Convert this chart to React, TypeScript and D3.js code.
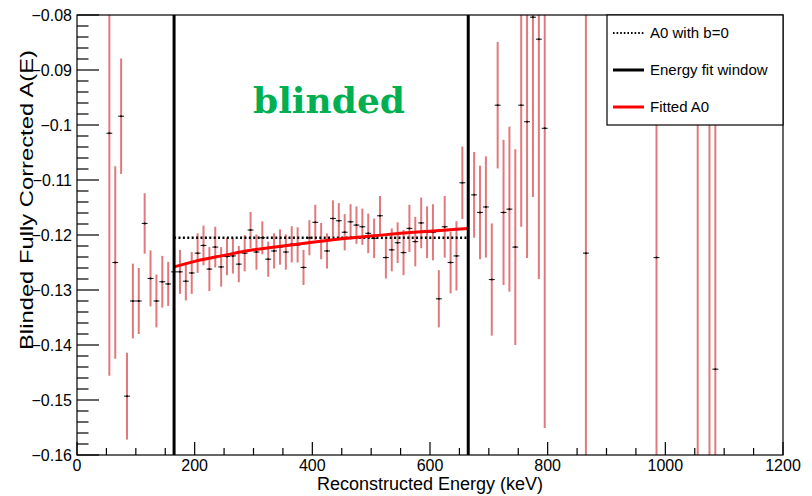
import React from 'react';
import * as d3 from 'd3';

// bin centres (keV) and blinded asymmetry with its statistical error
const binE = [
  55, 65, 75, 85, 95, 105, 115, 125, 135, 145, 155, 165, 175, 185, 195, 205, 215, 225, 235, 245,
  255, 265, 275, 285, 295, 305, 315, 325, 335, 345, 355, 365, 375, 385, 395, 405, 415, 425, 435, 445,
  455, 465, 475, 485, 495, 505, 515, 525, 535, 545, 555, 565, 575, 585, 595, 605, 615, 625, 635, 645,
  655, 675, 685, 695, 705, 715, 725, 735, 745, 755, 765, 775, 785, 795, 865, 985, 1055, 1075, 1085,
];
const asym = [
  -0.1015, -0.125, -0.0984, -0.1493, -0.132, -0.132, -0.1179, -0.1279, -0.132, -0.1285,
  -0.1289, -0.1267, -0.1267, -0.1284, -0.1269, -0.1233, -0.1219, -0.1262, -0.1222, -0.1258,
  -0.1239, -0.1238, -0.1253, -0.1233, -0.1191, -0.1231, -0.1205, -0.1244, -0.1229, -0.1222,
  -0.1231, -0.1217, -0.1218, -0.1259, -0.1205, -0.1177, -0.1211, -0.1229, -0.117, -0.1174,
  -0.1195, -0.1176, -0.1182, -0.1185, -0.1197, -0.1206, -0.1165, -0.1241, -0.1227, -0.1214,
  -0.1232, -0.1188, -0.1212, -0.1178, -0.1195, -0.1195, -0.1316, -0.1185, -0.125, -0.1238,
  -0.1105, -0.1127, -0.1159, -0.1149, -0.1281, -0.0964, -0.1159, -0.1153, -0.1222, -0.0964,
  -0.0994, -0.0804, -0.0844, -0.1006, -0.1233, -0.1241, -0.09, -0.095, -0.1444,
];
const asymErr = [
  0.0441, 0.0175, 0.0105, 0.0079, 0.0068, 0.006, 0.0055, 0.0051, 0.0048, 0.0047,
  0.004, 0.004, 0.004, 0.0035, 0.0038, 0.0036, 0.0036, 0.004, 0.0037, 0.0036,
  0.0034, 0.0032, 0.0033, 0.0033, 0.0033, 0.0032, 0.003, 0.0032, 0.0032, 0.0032,
  0.0032, 0.0033, 0.0032, 0.0032, 0.0032, 0.0032, 0.0033, 0.0032, 0.0033, 0.0032,
  0.0033, 0.0032, 0.0034, 0.0033, 0.0036, 0.0036, 0.0036, 0.0038, 0.0039, 0.0037,
  0.0041, 0.0043, 0.0045, 0.0046, 0.0047, 0.0051, 0.0052, 0.0056, 0.0056, 0.0063,
  0.0066, 0.0078, 0.0085, 0.0092, 0.0102, 0.0115, 0.0132, 0.015, 0.0178, 0.0221,
  0.0248, 0.0327, 0.0436, 0.0545, 0.08, 0.08, 0.1, 0.1, 0.1,
];

// fitted A0 curve
const fitE = [165, 200, 250, 300, 350, 400, 450, 500, 550, 600, 665];
const fitA = [-0.1258, -0.1248, -0.1237, -0.1227, -0.122, -0.1213, -0.1207, -0.1202, -0.1197, -0.1193, -0.1188];

const fitWindow = [165, 665];
const a0NoB = -0.1205;

const xTicks = [0, 200, 400, 600, 800, 1000, 1200];
const yTicks = [-0.08, -0.09, -0.1, -0.11, -0.12, -0.13, -0.14, -0.15, -0.16];
const yTickLabels = ['\u22120.08', '\u22120.09', '\u22120.1', '\u22120.11', '\u22120.12', '\u22120.13', '\u22120.14', '\u22120.15', '\u22120.16'];

const legendItems = ['A0 with b=0', 'Energy fit window', 'Fitted A0'];

const W = 812;
const H = 496;
const margin = { top: 15, right: 29, bottom: 41, left: 77 };
const font = '"Liberation Sans", Arial, sans-serif';

export default function App() {
  const x = d3.scaleLinear().domain([0, 1200]).range([margin.left, W - margin.right]);
  const y = d3.scaleLinear().domain([-0.16, -0.08]).range([H - margin.bottom, margin.top]);
  const [x0, x1] = x.range();
  const [yb, yt] = y.range();

  const minorX = d3.range(0, 1201, 50);
  const minorY = d3.range(0, 41).map((i) => -0.16 + i * 0.002);

  const fitLine = d3
    .line<number>()
    .x((d) => x(d))
    .y((_, i) => y(fitA[i]))
    .curve(d3.curveMonotoneX)(fitE);

  const legX = 607;
  const legY = yt;
  const legW = x1 - legX;
  const legH = 110;

  return (
    <svg width={W} height={H} style={{ position: 'absolute', left: 0, top: 0, background: '#fff' }}>
      <defs>
        <clipPath id="frame">
          <rect x={x0} y={yt} width={x1 - x0} height={yb - yt} />
        </clipPath>
      </defs>
      <rect width={W} height={H} fill="#fff" />

      <g clipPath="url(#frame)">
        {/* error bars */}
        {binE.map((e, i) => (
          <line
            key={'e' + i}
            x1={x(e)}
            x2={x(e)}
            y1={y(asym[i] + asymErr[i])}
            y2={y(asym[i] - asymErr[i])}
            stroke="#de6a6e"
            strokeOpacity={0.9}
            strokeWidth={2}
          />
        ))}
        {/* markers */}
        {binE.map((e, i) => (
          <g key={'m' + i}>
            <line x1={x(e - 5)} x2={x(e + 5)} y1={y(asym[i])} y2={y(asym[i])} stroke="#222" strokeWidth={1.1} />
            <circle cx={x(e)} cy={y(asym[i])} r={1} fill="#000" />
          </g>
        ))}
        {/* A0 with b=0 */}
        <line
          x1={x(fitWindow[0])}
          x2={x(fitWindow[1])}
          y1={y(a0NoB)}
          y2={y(a0NoB)}
          stroke="#000"
          strokeWidth={2.5}
          strokeDasharray="2 2.4"
        />
        {/* fitted A0 */}
        <path d={fitLine ?? ''} fill="none" stroke="#ff0000" strokeWidth={3} />
        {/* fit window */}
        {fitWindow.map((e) => (
          <line key={'w' + e} x1={x(e)} x2={x(e)} y1={yt} y2={yb} stroke="#000" strokeWidth={3} />
        ))}
      </g>

      {/* frame */}
      <rect x={x0} y={yt} width={x1 - x0} height={yb - yt} fill="none" stroke="#000" strokeWidth={1.2} />

      {/* x axis ticks */}
      {minorX.map((v) => {
        const major = v % 200 === 0;
        return (
          <line key={'xt' + v} x1={x(v)} x2={x(v)} y1={yb} y2={yb - (major ? 13 : 7)} stroke="#000" strokeWidth={1.2} />
        );
      })}
      {xTicks.map((v) => (
        <text key={'xl' + v} x={x(v)} y={yb + 16} textAnchor="middle" fontFamily={font} fontSize={16} fill="#000">
          {v}
        </text>
      ))}

      {/* y axis ticks */}
      {minorY.map((v, i) => {
        const major = i % 5 === 0;
        return (
          <line key={'yt' + i} x1={x0} x2={x0 + (major ? 22 : 11.5)} y1={y(v)} y2={y(v)} stroke="#000" strokeWidth={1.2} />
        );
      })}
      {yTicks.map((v, i) => (
        <text
          key={'yl' + i}
          x={x0 - 5}
          y={y(v)}
          dy="0.36em"
          textAnchor="end"
          fontFamily={font}
          fontSize={16}
          fill="#000"
        >
          {yTickLabels[i]}
        </text>
      ))}

      {/* axis titles */}
      <text x={(x0 + x1) / 2} y={490} textAnchor="middle" fontFamily={font} fontSize={18} fill="#000">
        Reconstructed Energy (keV)
      </text>
      <text
        transform="translate(33, 200) rotate(-90)"
        textAnchor="middle"
        fontFamily={font}
        fontSize={18}
        textLength={300}
        lengthAdjust="spacingAndGlyphs"
        fill="#000"
      >
        Blinded Fully Corrected A(E)
      </text>

      {/* legend */}
      <rect x={legX} y={legY} width={legW} height={legH} fill="#fff" stroke="#000" strokeWidth={1.2} />
      {legendItems.map((label, i) => {
        const cy = legY + 18 + i * 37;
        return (
          <g key={label}>
            {i === 0 && (
              <line x1={legX + 6} x2={legX + 37} y1={cy} y2={cy} stroke="#000" strokeWidth={2} strokeDasharray="1.6 2" />
            )}
            {i === 1 && <line x1={legX + 6} x2={legX + 37} y1={cy} y2={cy} stroke="#000" strokeWidth={3} />}
            {i === 2 && <line x1={legX + 6} x2={legX + 37} y1={cy} y2={cy} stroke="#ff0000" strokeWidth={3} />}
            <text x={legX + 43} y={cy} dy="0.35em" fontFamily={font} fontSize={15} fill="#000">
              {label}
            </text>
          </g>
        );
      })}

      {/* blinded stamp */}
      <text
        x={329}
        y={113}
        textAnchor="middle"
        fontFamily='"DejaVu Serif", serif'
        fontWeight="bold"
        fontSize={36}
        fill="#00b050"
      >
        blinded
      </text>
    </svg>
  );
}
